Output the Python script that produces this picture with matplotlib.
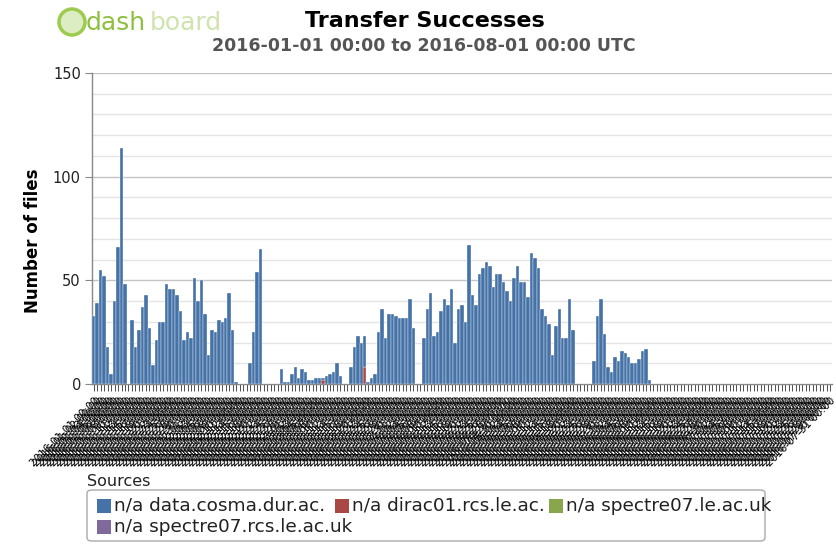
import matplotlib
matplotlib.use("Agg")
import matplotlib.pyplot as plt
import numpy as np
import pandas as pd
from matplotlib.patches import Rectangle, FancyBboxPatch, Ellipse

# ---------------- data ----------------
days = pd.date_range("2016-01-01", "2016-07-31", freq="D")
day_labels = [d.strftime("%Y-%m-%d %H:%M") for d in days]

cosma = [
    33, 39, 55, 52, 18, 5, 40, 66, 114, 48,
    0,
    31, 18, 26, 37, 43, 27, 9, 21, 30, 30, 48, 46, 46, 43, 35, 21, 25, 22, 51, 40,
    50, 34, 14, 26, 25, 31, 30, 32, 44, 26, 1,
    0, 0, 0,
    10, 25, 54, 65,
    0, 0, 0, 0, 0,
    7, 1, 1, 5, 8, 3, 7, 6, 2, 2, 3,
    3, 1, 4, 5, 6, 10, 4, 0, 0,
    8, 18, 23, 20, 15, 1, 3, 5,
    25, 36, 22, 34, 34, 33, 32, 32, 32, 41, 27,
    0, 0,
    22, 36, 44, 23, 25, 35, 41, 38, 46, 20, 36, 38, 30,
    67, 43, 38, 53, 56, 59, 57, 47, 53, 53, 49, 45, 40, 51, 57, 49, 49, 42, 63, 61,
    56, 36, 33, 29, 14, 28, 36, 22, 22, 41, 26,
    0, 0, 0, 0, 0,
    11, 33, 41, 24, 8, 6, 13, 11, 16, 15, 13, 10, 10, 12, 16, 17, 2,
    0, 0, 0, 0, 0, 0, 0, 0, 0, 0, 0, 0, 0, 0, 0, 0, 0, 0, 0, 0,
    0, 0, 0, 0, 0, 0, 0, 0, 0, 0, 0, 0, 0, 0, 0, 0, 0, 0, 0, 0,
    0, 0, 0, 0, 0, 0, 0, 0, 0, 0, 0, 0,
]
dirac_days = ["2016-03-07", "2016-03-19"]
dirac_values = [2, 8]

series_names = [
    "n/a data.cosma.dur.ac.",
    "n/a dirac01.rcs.le.ac.",
    "n/a spectre07.le.ac.uk",
    "n/a spectre07.rcs.le.ac.uk",
]
series_colors = ["#4572A7", "#AA4643", "#89A54E", "#80699B"]

y_ticks = [0, 50, 100, 150]

# ---------------- figure ----------------
W, H = 836, 546
fig = plt.figure(figsize=(W / 100, H / 100), dpi=100)
fig.patch.set_facecolor("white")


def fx(x):
    return x / W


def fy(y):
    return 1 - y / H


ax = fig.add_axes([fx(92), fy(384), fx(832) - fx(92), fy(73) - fy(384)])

n = len(days)
x = np.arange(n)
dirac = np.zeros(n)
for d, v in zip(dirac_days, dirac_values):
    dirac[days.get_loc(pd.Timestamp(d))] = v

ax.bar(x, dirac, width=1.0, color=series_colors[1], edgecolor="white",
       linewidth=0.25, align="edge", zorder=3)
ax.bar(x, cosma, width=1.0, bottom=dirac, color=series_colors[0],
       edgecolor="white", linewidth=0.25, align="edge", zorder=3)

ax.set_xlim(0, n)
ax.set_ylim(0, 150)

# grid
for v in range(10, 151, 10):
    major = v % 50 == 0
    ax.axhline(v, color="#c4c4c4" if major else "#e4e4e4",
               lw=1.0, zorder=1)

for s in ["top", "right"]:
    ax.spines[s].set_visible(False)
ax.spines["left"].set_color("#888888")
ax.spines["left"].set_linewidth(1.0)
ax.spines["bottom"].set_color("#888888")
ax.spines["bottom"].set_linewidth(1.0)

ax.set_yticks(y_ticks)
ax.set_yticklabels([str(t) for t in y_ticks], fontsize=10.5, color="#222222")
ax.tick_params(axis="y", length=5, color="#888888", pad=3)

ax.set_xticks(x + 0.5)
ax.set_xticklabels(day_labels, rotation=45, ha="right",
                   rotation_mode="anchor", fontsize=7.5, color="#000000")
ax.tick_params(axis="x", length=5, width=0.6, color="#333333", pad=3)

ax.set_ylabel("Number of files", fontsize=12, fontweight="bold")
ax.yaxis.set_label_coords(-0.068, 0.46)

# titles
fig.text(fx(425), fy(21), "Transfer Successes", ha="center", va="center",
         fontsize=16, fontweight="bold", color="#000000")
fig.text(fx(424), fy(46), "2016-01-01 00:00 to 2016-08-01 00:00 UTC",
         ha="center", va="center", fontsize=12.5, fontweight="bold",
         color="#555555")

# logo
fig.patches.append(Ellipse((fx(72), fy(22)), 26 / W, 26 / H,
                           transform=fig.transFigure, facecolor="#dcedc4",
                           edgecolor="#9ccb4e", lw=2.5))
fig.text(fx(86), fy(23), "dash", ha="left", va="center", fontsize=18,
         color="#8dc03f")
fig.text(fx(150), fy(23), "board", ha="left", va="center", fontsize=18,
         color="#cfe3ad")

# legend
fig.text(fx(87), fy(482), "Sources", ha="left", va="center", fontsize=11.5,
         color="#222222")
fig.patches.append(FancyBboxPatch((fx(87), fy(541)), fx(765) - fx(87),
                                  fy(490) - fy(541),
                                  boxstyle="round,pad=0,rounding_size=0.006",
                                  transform=fig.transFigure, facecolor="white",
                                  edgecolor="#aaaaaa", lw=1.0))
item_pos = [(97, 506), (335, 506), (549, 506), (97, 527)]
for (px, py), name, col in zip(item_pos, series_names, series_colors):
    fig.patches.append(Rectangle((fx(px), fy(py + 7)), fx(14), 14 / H,
                                 transform=fig.transFigure, facecolor=col,
                                 edgecolor="none"))
    fig.text(fx(px + 17), fy(py), name, ha="left", va="center",
             fontsize=13.3, color="#222222")

fig.savefig("out.png", dpi=100)
